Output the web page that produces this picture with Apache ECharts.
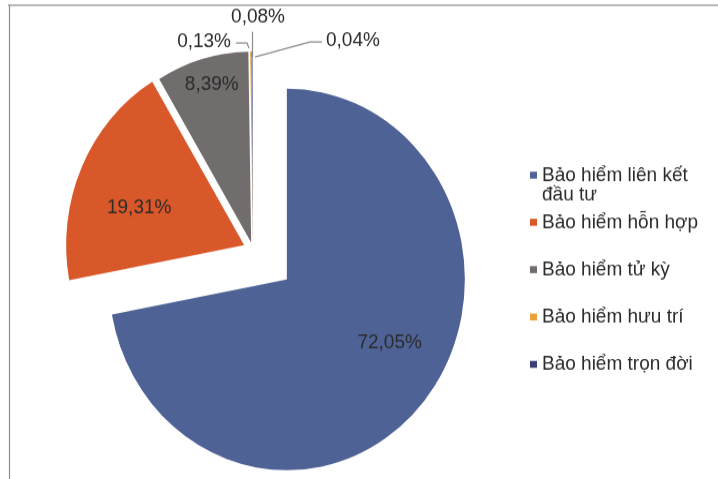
<!DOCTYPE html>
<html>
<head>
<meta charset="utf-8">
<script src="https://cdn.jsdelivr.net/npm/echarts@6/dist/echarts.min.js"></script>
<style>
  html, body { margin: 0; padding: 0; background: #fff; overflow: hidden; }
  #wrap { width: 718px; height: 479px; overflow: hidden; position: relative; }
  /* the pie is drawn slightly taller than wide */
  #chart { width: 718px; height: 447px; transform: scaleY(1.0716); transform-origin: 0 0; }
</style>
</head>
<body>
<div id="wrap"><div id="chart"></div></div>
<script>
// Product categories (clockwise from 12 o'clock) and their shares, %
const categories = [
  'Bảo hiểm liên kết đầu tư',
  'Bảo hiểm hỗn hợp',
  'Bảo hiểm tử kỳ',
  'Bảo hiểm hưu trí',
  'Bảo hiểm trọn đời',
  'Khác'
];
const shares = [72.05, 19.31, 8.39, 0.13, 0.08, 0.04];
const legendNames = categories.slice(0, 5);

// Styling
const sliceColors = ['#4F6296', '#D9582A', '#726D6D', '#E8A33A', '#3B3E7A', '#8FA8D8'];
const FONT = '"Liberation Sans", Arial, Helvetica, sans-serif';
const TEXT = '#2b2b2b';

// Exploded groups: slice indices and their pull-out distance
const groups = [[0], [1], [2, 3, 4, 5]];
const groupOffsets = [44, 9.7, 6.7];
const pieCenter = [253, 232.7];
const pieRadius = 178;

// Label placement: inside labels nudged, tiny slices labelled above the pie
const insideShift = { 0: [32, 0], 1: [-21, 3], 2: [-14, -59] };
const outsideLabels = {
  3: { x: 231, y: 38.3, align: 'right', line: [[249, 45], [247, 40.1], [236, 40.1]] },
  4: { x: 258, y: 15.9, align: 'center', line: [[252.5, 53], [252.5, 45], [252.5, 29.5]] },
  5: { x: 326, y: 37.3, align: 'left', line: [[255, 53.2], [310, 39.2], [322, 39.2]] }
};

const fmt = v => v.toFixed(2).replace('.', ',') + '%';
const labelFont = { fontFamily: FONT, fontSize: 19, color: TEXT, formatter: p => fmt(p.value) };

const basePie = {
  type: 'pie',
  center: pieCenter,
  radius: [0, pieRadius],
  startAngle: 90,
  clockwise: true,
  padAngle: 0,
  silent: true,
  animation: false,
  avoidLabelOverlap: false,
  emphasis: { disabled: true },
  itemStyle: { borderWidth: 0 }
};

// Sectors, one series per explosion distance
const sliceSeries = groups.map((g, gi) => Object.assign({}, basePie, {
  selectedMode: 'multiple',
  selectedOffset: groupOffsets[gi],
  label: Object.assign({ position: 'inside' }, labelFont),
  labelLine: { show: false },
  labelLayout: p => {
    const s = insideShift[p.dataIndex];
    return s ? { dx: s[0], dy: s[1] } : {};
  },
  data: categories.map((name, i) => {
    const mine = g.includes(i);
    return {
      name,
      value: shares[i],
      selected: mine,
      itemStyle: { color: mine ? sliceColors[i] : 'rgba(0,0,0,0)' },
      label: { show: mine && !!insideShift[i] }
    };
  })
}));

// Callouts for the thin slices at the top
const calloutSeries = Object.assign({}, basePie, {
  label: Object.assign({ position: 'outside' }, labelFont),
  labelLine: { show: true, lineStyle: { color: '#8c8c8c', width: 1.2 }, length: 5, length2: 5 },
  labelLayout: p => {
    const o = outsideLabels[p.dataIndex];
    return o ? { x: o.x, y: o.y, align: o.align, verticalAlign: 'middle', labelLinePoints: o.line } : {};
  },
  data: categories.map((name, i) => ({
    name,
    value: shares[i],
    itemStyle: { color: 'rgba(0,0,0,0)' },
    label: { show: !!outsideLabels[i] },
    labelLine: { show: !!outsideLabels[i] }
  }))
});

const legendText = { fontFamily: FONT, fontSize: 19, color: TEXT, lineHeight: 18.66 };

const option = {
  backgroundColor: '#fff',
  animation: false,
  legend: [
    {
      orient: 'vertical', left: 530, top: 135.3, padding: 0,
      icon: 'rect', itemWidth: 7, itemHeight: 6.5, selectedMode: false,
      textStyle: legendText,
      formatter: () => '\nBảo hiểm liên kết\nđầu tư',
      data: [{ name: legendNames[0], itemStyle: { color: sliceColors[0] } }]
    },
    {
      orient: 'vertical', left: 530, top: 197.9, padding: 0, itemGap: 25.2,
      icon: 'rect', itemWidth: 7, itemHeight: 6.5, selectedMode: false,
      textStyle: legendText,
      data: legendNames.slice(1).map((n, k) => ({ name: n, itemStyle: { color: sliceColors[k + 1] } }))
    }
  ],
  graphic: [
    { type: 'line', silent: true, shape: { x1: 8, y1: 4.9, x2: 718, y2: 4.9 }, style: { stroke: '#8f8f8f', lineWidth: 1.2 } },
    { type: 'line', silent: true, shape: { x1: 9.5, y1: 4.9, x2: 9.5, y2: 447 }, style: { stroke: '#8f8f8f', lineWidth: 1.2 } }
  ],
  series: sliceSeries.concat([calloutSeries])
};

const chart = echarts.init(document.getElementById('chart'), null, { renderer: 'canvas' });
chart.setOption(option);
</script>
</body>
</html>
